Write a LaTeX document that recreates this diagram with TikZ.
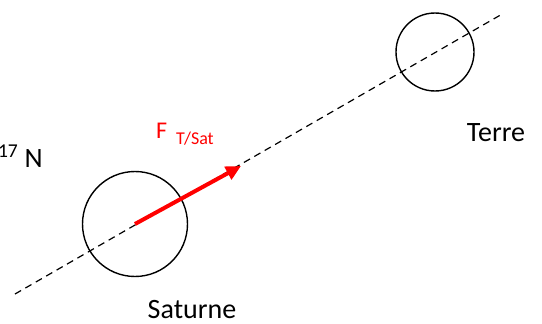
\documentclass[tikz,border=0pt]{standalone}
\usepackage{fontspec}
\setmainfont{Carlito}
\usepackage{tikz}
\usetikzlibrary{arrows.meta, positioning, calc}

\begin{document}
\begin{tikzpicture}[
  x=1pt, y=-1pt,
  planet/.style = {draw, circle, line width=1.4pt, inner sep=0pt},
  axis/.style   = {dashed, line width=1.2pt, dash pattern=on 7pt off 5pt},
  force/.style  = {red, line width=4pt, -{Triangle[length=15pt,width=14pt]}},
  lbl/.style    = {font=\fontsize{28}{32}\selectfont, inner sep=0pt},
]
  \useasboundingbox (0,0) rectangle (542,324);

  \node[planet, minimum size=105pt] (sat)  at (135,224) {};
  \node[planet, minimum size=78pt]  (terre) at (435,52)  {};

  \coordinate (aL) at (15,294);
  \coordinate (aR) at (504,13);
  \draw[axis] (aL) -- (aR);

  \coordinate (ftip) at (241,166);
  \draw[force] (sat.center) -- (ftip);

  \node[lbl, red, font=\fontsize{24}{28}\selectfont, anchor=base west] (F) at (156,138)
       {F\hspace{9pt}\raisebox{-6pt}{\fontsize{18}{20}\selectfont T/Sat}};
  \node[lbl, anchor=base] (nT) at (496,141) {Terre};
  \node[lbl, anchor=base] (nS) at (192,318) {Saturne};
  \node[lbl, anchor=base east] (nN) at (43,167) {\textsuperscript{17} N};
\end{tikzpicture}
\end{document}
